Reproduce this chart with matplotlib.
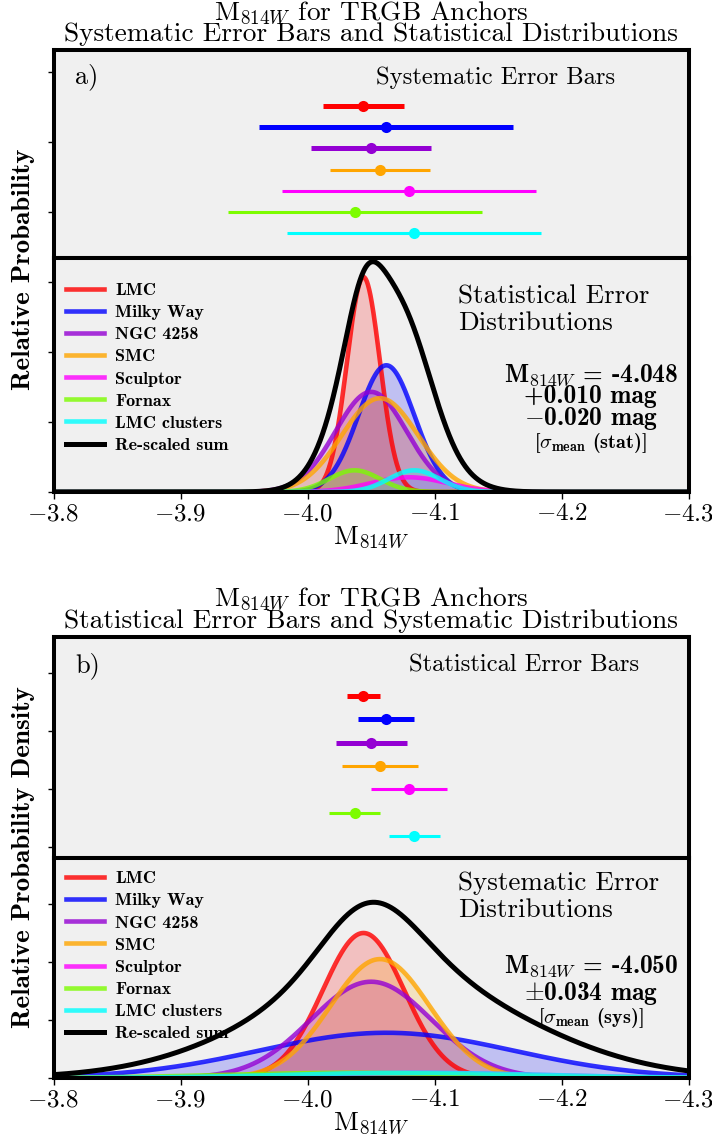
import numpy as np
import matplotlib.pyplot as plt

plt.rcParams['font.family'] = 'cmr10'
plt.rcParams['mathtext.fontset'] = 'cm'
plt.rcParams['axes.formatter.use_mathtext'] = True
plt.rcParams['axes.unicode_minus'] = True

# ==============================
# DATA
# ==============================
anchors = ["LMC", "Milky Way", "NGC 4258", "SMC", "Sculptor", "Fornax", "LMC clusters"]
colors = ["#ff0000", "#0000ff", "#9400d3", "#ffa500", "#ff00ff", "#7cfc00", "#00ffff"]
m_trgb = [-4.044, -4.062, -4.050, -4.057, -4.080, -4.037, -4.084]
sig_stat = [0.013, 0.022, 0.028, 0.030, 0.030, 0.020, 0.020]
sig_sys = [0.032, 0.100, 0.0475, 0.039, 0.100, 0.100, 0.100]

# peak heights of the drawn distributions (in tick units)
peak_stat = [3.07, 1.81, 1.43, 1.34, 0.21, 0.31, 0.31]
peak_sys = [2.50, 0.78, 1.66, 2.05, 0.09, 0.09, 0.09]
sum_peak_stat = 3.29
sum_peak_sys = 3.03

bar_lw = [3.6, 3.6, 3.6, 2.2, 2.2, 2.2, 2.2]

BG = "#f0f0f0"
X_MIN, X_MAX = -3.8, -4.3
xgrid = np.linspace(X_MIN, X_MAX, 1500)


def gauss(x, mu, sig):
    return np.exp(-0.5 * ((x - mu) / sig) ** 2)


def style_axis(ax):
    ax.set_facecolor(BG)
    for sp in ax.spines.values():
        sp.set_linewidth(2.9)
    ax.set_xlim(X_MIN, X_MAX)
    ax.tick_params(axis="y", direction="out", length=4, width=1, labelleft=False)


W, H = 712, 1141
fig = plt.figure(figsize=(W / 100, H / 100), dpi=100)


def fig_rect(top_px, bot_px):
    left = 53.6 / W
    width = 635.0 / W
    return [left, 1 - bot_px / H, width, (bot_px - top_px) / H]


def draw_panel(top_px, mid_px, bot_px, bar_err, dist_sig, peaks, sum_peak, ybot_max,
               tag, bars_title, dist_title, leg_y, stat_main, stat_y, stat_ls,
               stat_sigma, sigma_y, row_ticks, ylim_top):
    ax_t = fig.add_axes(fig_rect(top_px, mid_px))
    ax_b = fig.add_axes(fig_rect(mid_px, bot_px))
    style_axis(ax_t)
    style_axis(ax_b)

    # --- error bars ---
    n = len(anchors)
    for i in range(n):
        ax_t.errorbar(m_trgb[i], n - 1 - i, xerr=bar_err[i], fmt="o",
                      color=colors[i], ms=8, mew=0, elinewidth=bar_lw[i], capsize=0)
    ax_t.set_ylim(*ylim_top)
    ax_t.set_yticks(row_ticks)
    ax_t.tick_params(axis="x", bottom=False, labelbottom=False)
    ax_t.text(0.034, 0.87, tag, transform=ax_t.transAxes, fontsize=19, va="center")
    ax_t.text(bars_title[0], bars_title[1], bars_title[2], transform=ax_t.transAxes,
              fontsize=17.7, va="center")

    # --- distributions ---
    for i in range(n):
        curve = peaks[i] * gauss(xgrid, m_trgb[i], dist_sig[i])
        ax_b.fill_between(xgrid, 0, curve, color=colors[i], alpha=0.2, lw=0)
        ax_b.plot(xgrid, curve, color=colors[i], lw=3.3, alpha=0.8, label=anchors[i])
    total = np.zeros_like(xgrid)
    for i in range(n):
        total += gauss(xgrid, m_trgb[i], dist_sig[i])
    total = total / total.max() * sum_peak
    ax_b.plot(xgrid, total, color="black", lw=3.6, label="Re-scaled sum")

    ax_b.set_ylim(0, ybot_max)
    ax_b.set_yticks([0, 1, 2, 3])
    ax_b.tick_params(axis="x", direction="out", length=5, width=1, labelsize=18, pad=3)
    ax_b.set_xticks([-3.8, -3.9, -4.0, -4.1, -4.2, -4.3])
    ax_b.set_xlabel(r"M$_{814W}$", fontsize=19.5, labelpad=-1)

    ax_b.legend(loc="upper left", bbox_to_anchor=(0.0, leg_y), frameon=False,
                prop={"family": "cmb10", "size": 13}, handlelength=2.1,
                handletextpad=0.62, labelspacing=0.36, borderaxespad=0.3)
    ax_b.text(0.637, dist_title[0], dist_title[1], transform=ax_b.transAxes,
              fontsize=19.5, va="center", linespacing=1.15)
    ax_b.text(0.846, stat_y, stat_main, transform=ax_b.transAxes, ha="center",
              va="center", fontsize=18.3, family="cmb10", linespacing=stat_ls,
              multialignment="center")
    ax_b.text(0.846, sigma_y, stat_sigma, transform=ax_b.transAxes, ha="center",
              va="center", fontsize=14.5, family="cmb10")
    return ax_t, ax_b


# ---------------- panel a ----------------
draw_panel(50, 258, 492, sig_sys, sig_stat, peak_stat, sum_peak_stat, 234 / 70.0,
           "a)", (0.508, 0.865, "Systematic Error Bars"),
           (0.778, "Statistical Error\nDistributions"), 0.95,
           "M$_{814W}$ = -4.048\n+0.010 mag\n$-$0.020 mag", 0.405, 0.82,
           r"[$\sigma_{\mathbf{mean}}$ (stat)]", 0.21,
           np.arange(0.99, 8.6, 3.307), (-1.18, 8.645))
fig.text(371 / W, 1 - 22.5 / H,
         "M$_{814W}$ for TRGB Anchors\nSystematic Error Bars and Statistical Distributions",
         ha="center", va="center", fontsize=19.7, linespacing=0.82)
fig.text(24 / W, 1 - 269 / H, "Relative Probability", rotation=90, ha="center", va="center",
         fontsize=19.5, family="cmb10")

# ---------------- panel b ----------------
draw_panel(637, 858, 1078, sig_stat, sig_sys, peak_sys, sum_peak_sys, 220 / 58.0,
           "b)", (0.56, 0.873, "Statistical Error Bars"),
           (0.825, "Systematic Error\nDistributions"), 1.0,
           "M$_{814W}$ = -4.050\n$\\pm$0.034 mag", 0.445, 1.05,
           r"[$\sigma_{\mathbf{mean}}$ (sys)]", 0.275,
           np.arange(-0.47, 8.5, 2.49), (-0.944, 8.53))
fig.text(371 / W, 1 - 609 / H,
         "M$_{814W}$ for TRGB Anchors\nStatistical Error Bars and Systematic Distributions",
         ha="center", va="center", fontsize=19.7, linespacing=0.82)
fig.text(24 / W, 1 - 857 / H, "Relative Probability Density", rotation=90, ha="center",
         va="center", fontsize=19.5, family="cmb10")

fig.savefig("out.png", dpi=100)
